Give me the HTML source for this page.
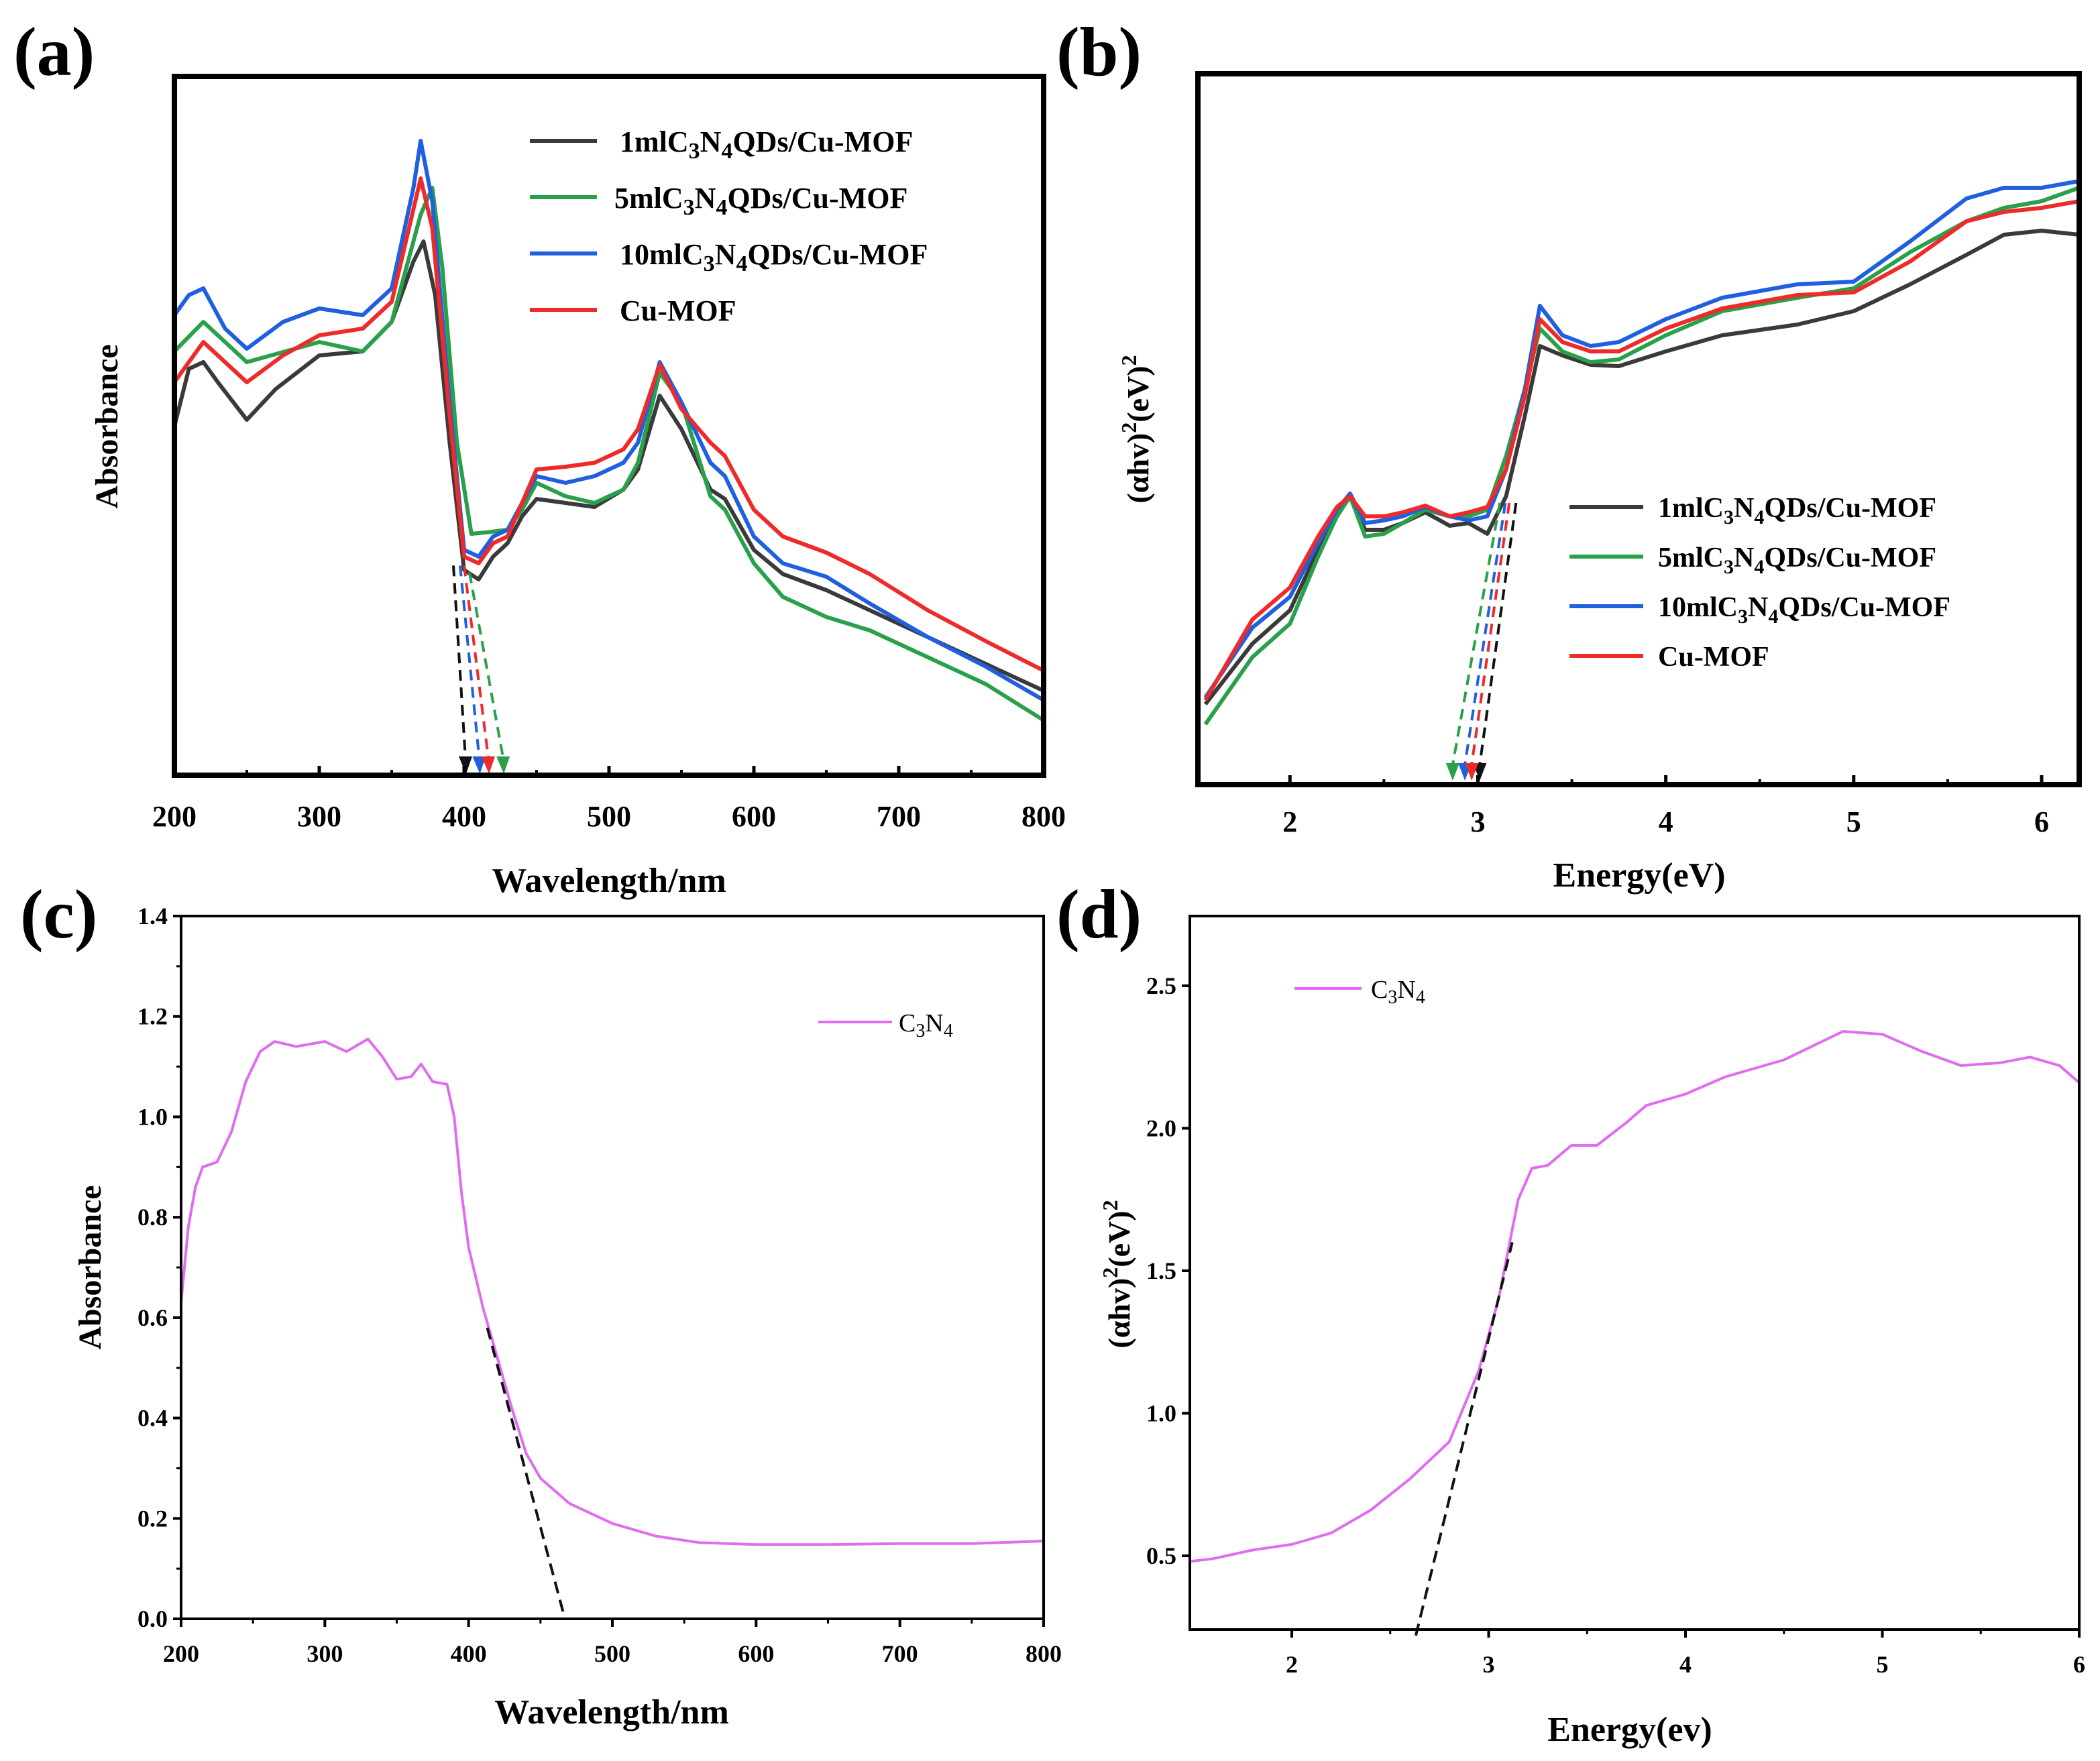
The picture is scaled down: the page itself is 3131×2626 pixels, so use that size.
<!DOCTYPE html>
<html><head><meta charset="utf-8"><style>
html,body{margin:0;padding:0;background:#fff}
svg{display:block;font-family:"Liberation Serif",serif;font-weight:bold}
</style></head><body>
<svg id="fig" width="3131" height="2626" viewBox="0 0 3131 2626" xmlns="http://www.w3.org/2000/svg"></svg>
<script>
// ---------- DATA ----------
// Panel (a): wavelength (nm) and absorbance (arbitrary, 0..1 of frame)
const aWl1=[200,210,220,230,250,270,300,330,350,365,372,380,390,400,410,420,430,440,450,470,490,510,520,535,550,570,580,600,620,650,680,720,760,800];
const aBlack=[318,275,270,285,313,290,265,262,240,195,180,220,330,425,432,415,405,385,372,375,378,365,350,295,320,365,372,410,428,440,455,475,495,515];
const aWlG=[200,220,250,300,330,350,370,378,385,395,405,415,430,440,450,470,490,510,520,535,550,570,580,600,620,650,680,720,760,800];
const aGreen=[262,240,270,255,262,240,160,140,200,330,398,397,395,380,360,370,375,365,345,278,300,370,380,420,445,460,470,490,510,537];
const aWlB=[200,210,220,235,250,275,300,330,350,365,370,378,390,400,410,420,430,440,450,470,490,510,520,535,550,570,580,600,620,650,680,720,760,800];
const aBlue=[235,220,215,245,260,240,230,235,215,140,105,150,300,410,415,400,395,375,355,360,355,345,330,270,300,345,355,400,420,430,450,475,497,522];
const aWlR=[200,220,250,275,300,330,350,370,378,390,400,410,420,430,440,450,470,490,510,520,535,550,570,580,600,620,650,680,720,760,800];
const aRed=[285,255,285,265,250,245,225,133,170,310,415,420,405,400,375,350,348,345,335,320,272,305,330,340,380,400,412,428,455,478,500];
const aArrowStart=[392.6,397.2,400,403.7];
const aArrowEnd=[400.9,410.4,416.7,426.9];
const aArrowY=[0.3,0.3,0.3,0.29];
const aXTicks=[200,300,400,500,600,700,800];
// Panel (b): energy (eV)
const bE=[1.55,1.8,2.0,2.15,2.25,2.32,2.4,2.5,2.6,2.72,2.85,2.95,3.05,3.15,3.25,3.33,3.45,3.6,3.75,4.0,4.3,4.7,5.0,5.3,5.6,5.8,6.0,6.2];
const bBlack=[525,480,455,410,385,370,395,395,390,382,392,390,398,370,310,258,265,272,273,262,250,242,232,212,190,175,172,175];
const bGreen=[540,490,465,415,385,370,400,398,390,380,385,385,380,340,290,245,262,270,268,250,232,222,215,188,165,155,150,140];
const bBlue=[520,468,445,405,380,368,390,388,385,378,385,388,385,350,290,228,250,258,255,238,222,212,210,180,148,140,140,135];
const bRed=[522,462,438,400,378,370,385,385,382,377,385,382,378,350,295,238,255,262,262,245,230,220,218,195,165,158,155,150];
const bArrowStart=[3.203,3.117,3.146,3.167];
const bArrowEnd=[3.01,2.866,2.931,2.967];
const bXTicks=[2,3,4,5,6];
// Panel (c)
const cWl=[200,205,210,215,225,235,245,255,265,280,300,315,330,340,350,360,367,375,385,390,395,400,410,420,430,440,450,470,500,530,560,600,650,700,750,800];
const cAbs=[0.63,0.78,0.86,0.90,0.91,0.97,1.07,1.13,1.15,1.14,1.15,1.13,1.155,1.12,1.075,1.08,1.105,1.07,1.065,1.0,0.85,0.74,0.62,0.52,0.42,0.33,0.28,0.23,0.19,0.165,0.152,0.148,0.148,0.15,0.15,0.155];
const cFitX=[413,467];
const cFitY=[0.58,0];
const cXTicks=[200,300,400,500,600,700,800];
const cYTicks=["0.0","0.2","0.4","0.6","0.8","1.0","1.2","1.4"];
// Panel (d)
const dE=[1.48,1.6,1.8,2.0,2.2,2.4,2.6,2.8,2.95,3.05,3.15,3.22,3.3,3.42,3.55,3.7,3.8,4.0,4.2,4.5,4.8,5.0,5.2,5.4,5.6,5.75,5.9,6.0];
const dVal=[0.48,0.49,0.52,0.54,0.58,0.66,0.77,0.90,1.15,1.40,1.75,1.86,1.87,1.94,1.94,2.02,2.08,2.12,2.18,2.24,2.34,2.33,2.27,2.22,2.23,2.25,2.22,2.16];
const dFitX=[2.63,3.12];
const dFitY=[0.22,1.6];
const dXTicks=[2,3,4,5,6];
const dYTicks=["0.5","1.0","1.5","2.0","2.5"];

const NS="http://www.w3.org/2000/svg";
const svg=document.getElementById('fig');
function el(tag,attrs,parent,text){const e=document.createElementNS(NS,tag);for(const k in attrs)e.setAttribute(k,attrs[k]);if(text!==undefined)e.textContent=text;(parent||svg).appendChild(e);return e;}
function lin(d0,d1,p0,p1){return v=>p0+(v-d0)*(p1-p0)/(d1-d0);}
function pathD(xs,ys,fx,fy){return xs.map((x,i)=>(i?'L':'M')+fx(x).toFixed(1)+','+fy(ys[i]).toFixed(1)).join(' ');}

// ---------- Panel (a) ----------
const axA=lin(200,800,260,1556);
const ayA=v=>1156-(578-v)*2;   // half-res pixel data -> full
const ayAn=v=>1156-v*1042;     // normalized
const gA=el('g',{});


const ser=[[aWl1,aBlack,'#3a3a3a','series-1ml'],[aWlG,aGreen,'#2aa04a','series-5ml'],[aWlB,aBlue,'#1f5fe0','series-10ml'],[aWlR,aRed,'#ee2a2a','series-cu-mof']];
ser.forEach(s=>{const p=el('path',{d:pathD(s[0],s[1],axA,ayA),fill:'none',stroke:s[2],'stroke-width':6,'stroke-linejoin':'round'},gA);

});
const arrCols=['#111','#2aa04a','#1f5fe0','#ee2a2a'];
const aOrder=[0,2,3,1];
aArrowStart.forEach((s,i)=>{const c=arrCols[aOrder[i]];const x1=axA(s),x2=axA(aArrowEnd[i]);
const l=el('line',{x1:x1,y1:ayAn(aArrowY[i]),x2:x2,y2:1130,stroke:c,'stroke-width':4,'stroke-dasharray':'16 10'},gA);


const t=el('polygon',{points:`${x2-10},1128 ${x2+10},1128 ${x2+1},1154`,fill:c},gA);

});
el('rect',{x:260,y:114,width:1296,height:1042,fill:'none',stroke:'#000','stroke-width':8},gA);
aXTicks.forEach(t=>{el('line',{x1:axA(t),y1:1156,x2:axA(t),y2:1142,stroke:'#000','stroke-width':5},gA);
el('text',{x:axA(t),y:1232,'font-size':44,'text-anchor':'middle'},gA,t);
if(t<800)el('line',{x1:axA(t+50),y1:1156,x2:axA(t+50),y2:1148,stroke:'#000','stroke-width':4},gA);});
el('text',{x:908,y:1330,'font-size':52,'text-anchor':'middle'},gA,'Wavelength/nm');
el('text',{x:0,y:0,'font-size':48,'text-anchor':'middle',transform:'translate(175,636) rotate(-90)'},gA,'Absorbance');
el('text',{x:20,y:112,'font-size':104},gA,'(a)');
const legA=[['1mlC','#3a3a3a',924],['5mlC','#2aa04a',916],['10mlC','#1f5fe0',924],['Cu-MOF','#ee2a2a',924]];
legA.forEach((l,i)=>{const y=210+i*84;el('line',{x1:790,y1:y,x2:890,y2:y,stroke:l[1],'stroke-width':6},gA);
const tx=el('text',{x:l[2],y:y+16,'font-size':44},gA);


if(l[0]==='Cu-MOF'){tx.textContent='Cu-MOF';}else{
el('tspan',{},tx,l[0]);el('tspan',{dy:10,'font-size':34},tx,'3');el('tspan',{dy:-10},tx,'N');el('tspan',{dy:10,'font-size':34},tx,'4');el('tspan',{dy:-10},tx,'QDs/Cu-MOF');}});

// ---------- Panel (b) ----------
const axB=lin(1.51,6.2,1786,3100);
const ayB=v=>1170-(585-v)*2;
const gB=el('g',{});


const serB=[[bBlack,'#3a3a3a'],[bGreen,'#2aa04a'],[bBlue,'#1f5fe0'],[bRed,'#ee2a2a']];
serB.forEach(s=>{const p=el('path',{d:pathD(bE,s[0],axB,ayB),fill:'none',stroke:s[1],'stroke-width':6,'stroke-linejoin':'round'},gB);

});
bArrowStart.forEach((s,i)=>{const c=arrCols[i];const x1=axB(s),x2=axB(bArrowEnd[i]);
const l=el('line',{x1:x1,y1:750,x2:x2,y2:1140,stroke:c,'stroke-width':4,'stroke-dasharray':'16 10'},gB);


const t=el('polygon',{points:`${x2-10},1138 ${x2+10},1138 ${x2},1164`,fill:c},gB);

});
el('rect',{x:1786,y:110,width:1314,height:1060,fill:'none',stroke:'#000','stroke-width':8},gB);
bXTicks.forEach(t=>{el('line',{x1:axB(t),y1:1170,x2:axB(t),y2:1156,stroke:'#000','stroke-width':5},gB);
el('text',{x:axB(t),y:1240,'font-size':44,'text-anchor':'middle'},gB,t);
if(t<6)el('line',{x1:axB(t+0.5),y1:1170,x2:axB(t+0.5),y2:1162,stroke:'#000','stroke-width':4},gB);});
el('text',{x:2444,y:1322,'font-size':52,'text-anchor':'middle'},gB,'Energy(eV)');
const ylb=el('text',{x:0,y:0,'font-size':46,'text-anchor':'middle',transform:'translate(1712,640) rotate(-90)'},gB);
el('tspan',{},ylb,'(\u03b1hv)');el('tspan',{dy:-18,'font-size':32},ylb,'2');el('tspan',{dy:18},ylb,'(eV)');el('tspan',{dy:-18,'font-size':32},ylb,'2');
el('text',{x:1575,y:112,'font-size':104},gB,'(b)');
['1mlC','5mlC','10mlC','Cu-MOF'].forEach((n,i)=>{const y=756+i*74;el('line',{x1:2340,y1:y,x2:2450,y2:y,stroke:arrCols[i]==='#111'?'#3a3a3a':arrCols[i],'stroke-width':6},gB);
const tx=el('text',{x:2472,y:y+15,'font-size':42},gB);


if(n==='Cu-MOF')tx.textContent=n;else{el('tspan',{},tx,n);el('tspan',{dy:10,'font-size':30},tx,'3');el('tspan',{dy:-10},tx,'N');el('tspan',{dy:10,'font-size':30},tx,'4');el('tspan',{dy:-10},tx,'QDs/Cu-MOF');}});

// ---------- Panel (c) ----------
const axC=lin(200,800,270,1556);
const ayC=lin(0,1.4,2414,1366);
const gC=el('g',{});


const pc=el('path',{d:pathD(cWl,cAbs,axC,ayC),fill:'none',stroke:'#e06cf0','stroke-width':4,'stroke-linejoin':'round'},gC);


el('line',{x1:axC(cFitX[0]),y1:ayC(cFitY[0]),x2:axC(cFitX[1]),y2:ayC(cFitY[1]),stroke:'#111','stroke-width':4,'stroke-dasharray':'18 10'},gC);
el('rect',{x:270,y:1366,width:1286,height:1048,fill:'none',stroke:'#000','stroke-width':4},gC);
cXTicks.forEach(t=>{el('line',{x1:axC(t),y1:2414,x2:axC(t),y2:2426,stroke:'#000','stroke-width':4},gC);
el('text',{x:axC(t),y:2478,'font-size':36,'text-anchor':'middle'},gC,t);
if(t<800)el('line',{x1:axC(t+50),y1:2414,x2:axC(t+50),y2:2421,stroke:'#000','stroke-width':3},gC);});
cYTicks.forEach(t=>{const v=parseFloat(t);el('line',{x1:258,y1:ayC(v),x2:270,y2:ayC(v),stroke:'#000','stroke-width':4},gC);
el('text',{x:250,y:ayC(v)+12,'font-size':36,'text-anchor':'end'},gC,t);
if(v<1.4)el('line',{x1:263,y1:ayC(v+0.1),x2:270,y2:ayC(v+0.1),stroke:'#000','stroke-width':3},gC);});
el('text',{x:912,y:2570,'font-size':52,'text-anchor':'middle'},gC,'Wavelength/nm');
el('text',{x:0,y:0,'font-size':48,'text-anchor':'middle',transform:'translate(150,1890) rotate(-90)'},gC,'Absorbance');
el('text',{x:30,y:1398,'font-size':104},gC,'(c)');
el('line',{x1:1220,y1:1524,x2:1330,y2:1524,stroke:'#e06cf0','stroke-width':4},gC);
const lc=el('text',{x:1340,y:1538,'font-size':38,'font-weight':'normal'},gC);
el('tspan',{},lc,'C');el('tspan',{dy:8,'font-size':28},lc,'3');el('tspan',{dy:-8},lc,'N');el('tspan',{dy:8,'font-size':28},lc,'4');

// ---------- Panel (d) ----------
const axD=lin(2,6,1926,3100);
const ayD=lin(0.5,2.5,2320,1470);
const gD=el('g',{});


const pd=el('path',{d:pathD(dE,dVal,axD,ayD),fill:'none',stroke:'#e06cf0','stroke-width':4,'stroke-linejoin':'round'},gD);


el('line',{x1:axD(dFitX[0]),y1:ayD(dFitY[0]),x2:axD(dFitX[1]),y2:ayD(dFitY[1]),stroke:'#111','stroke-width':4,'stroke-dasharray':'18 10'},gD);
el('rect',{x:1774,y:1366,width:1326,height:1064,fill:'none',stroke:'#000','stroke-width':4},gD);
dXTicks.forEach(t=>{el('line',{x1:axD(t),y1:2430,x2:axD(t),y2:2442,stroke:'#000','stroke-width':4},gD);
el('text',{x:axD(t),y:2494,'font-size':36,'text-anchor':'middle'},gD,t);
if(t<6)el('line',{x1:axD(t+0.5),y1:2430,x2:axD(t+0.5),y2:2437,stroke:'#000','stroke-width':3},gD);});
dYTicks.forEach(t=>{const v=parseFloat(t);el('line',{x1:1762,y1:ayD(v),x2:1774,y2:ayD(v),stroke:'#000','stroke-width':4},gD);
el('text',{x:1754,y:ayD(v)+12,'font-size':36,'text-anchor':'end'},gD,t);});
el('text',{x:2430,y:2596,'font-size':52,'text-anchor':'middle'},gD,'Energy(ev)');
const yld=el('text',{x:0,y:0,'font-size':46,'text-anchor':'middle',transform:'translate(1684,1900) rotate(-90)'},gD);
el('tspan',{},yld,'(\u03b1hv)');el('tspan',{dy:-18,'font-size':32},yld,'2');el('tspan',{dy:18},yld,'(eV)');el('tspan',{dy:-18,'font-size':32},yld,'2');
el('text',{x:1575,y:1398,'font-size':104},gD,'(d)');
el('line',{x1:1930,y1:1474,x2:2030,y2:1474,stroke:'#e06cf0','stroke-width':4},gD);
const ld=el('text',{x:2044,y:1488,'font-size':38,'font-weight':'normal'},gD);
el('tspan',{},ld,'C');el('tspan',{dy:8,'font-size':28},ld,'3');el('tspan',{dy:-8},ld,'N');el('tspan',{dy:8,'font-size':28},ld,'4');
</script>
</body></html>
